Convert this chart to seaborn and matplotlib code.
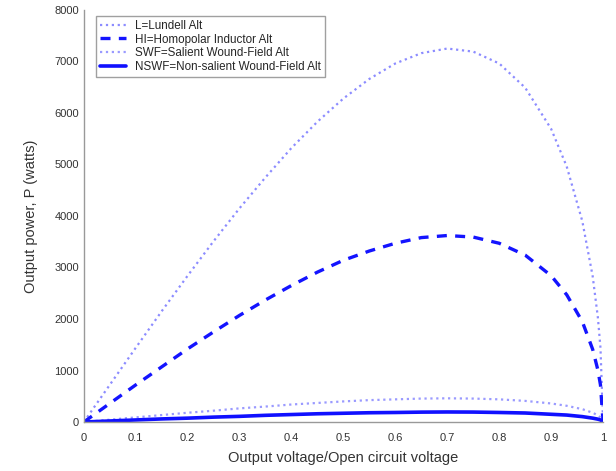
import pandas as pd
import matplotlib
matplotlib.use("Agg")
import matplotlib.pyplot as plt
import seaborn as sns

# Values
x = [0, 0.05, 0.1, 0.15, 0.2, 0.25, 0.3, 0.35, 0.4, 0.45, 0.5, 0.55,
     0.6, 0.65, 0.7, 0.75, 0.8, 0.85, 0.9, 0.93, 0.96, 0.98, 0.99, 0.995, 1.0]
lundell = [0, 720, 1440, 2150, 2840, 3510, 4150, 4750, 5320, 5830, 6280, 6660,
           6960, 7160, 7250, 7190, 6960, 6490, 5690, 4960, 3900, 2830, 2030, 1440, 0]
homopolar = [0, 360, 720, 1070, 1420, 1750, 2070, 2370, 2650, 2910, 3140, 3320,
             3470, 3580, 3620, 3590, 3470, 3240, 2840, 2470, 1950, 1410, 1010, 720, 0]
salient = [0, 45, 90, 135, 180, 220, 265, 300, 340, 370, 400, 425,
           440, 455, 460, 455, 440, 410, 360, 315, 250, 180, 130, 90, 0]
nonsalient = [0, 20, 40, 60, 75, 95, 110, 130, 145, 160, 170, 180,
              185, 192, 195, 193, 185, 175, 150, 135, 105, 75, 55, 40, 0]
labels = ["L=Lundell Alt", "HI=Homopolar Inductor Alt",
          "SWF=Salient Wound-Field Alt", "NSWF=Non-salient Wound-Field Alt"]

df = pd.DataFrame({"x": x, labels[0]: lundell, labels[1]: homopolar,
                   labels[2]: salient, labels[3]: nonsalient})

sns.set_style("white")
plt.rcParams["font.family"] = ["Liberation Sans", "DejaVu Sans"]

fig = plt.figure(figsize=(6.16, 4.71), dpi=100)
ax = fig.add_axes([0.136, 0.104, 0.843, 0.875])

styles = [
    dict(color="#8c8cff", linestyle=":", linewidth=1.6),
    dict(color="#1414ff", linestyle=(0, (3, 2.5)), linewidth=2.4),
    dict(color="#9a9aff", linestyle=":", linewidth=1.6),
    dict(color="#1010ff", linestyle="-", linewidth=2.6),
]
for lab, st in zip(labels, styles):
    sns.lineplot(x="x", y=lab, data=df, ax=ax, label=lab, sort=False, **st)

ax.set_xlim(0, 1)
ax.set_ylim(0, 8000)
ax.set_xticks([0, 0.1, 0.2, 0.3, 0.4, 0.5, 0.6, 0.7, 0.8, 0.9, 1])
ax.set_xticklabels(["0", "0.1", "0.2", "0.3", "0.4", "0.5", "0.6", "0.7", "0.8", "0.9", "1"])
ax.set_yticks(range(0, 8001, 1000))
ax.tick_params(direction="in", length=3, labelsize=8, colors="#555555",
               labelcolor="#333333")
ax.tick_params(axis="x", pad=8)
ax.set_xlabel("Output voltage/Open circuit voltage", fontsize=10.5,
              color="#333333", labelpad=6)
ax.set_ylabel("Output power, P (watts)", fontsize=10.5, color="#333333",
              labelpad=12)
sns.despine(ax=ax)
for s in ["left", "bottom"]:
    ax.spines[s].set_color("#999999")
    ax.spines[s].set_linewidth(1)

leg = ax.legend(loc="upper left", bbox_to_anchor=(0.012, 1.0), fontsize=8.4,
                frameon=True, fancybox=False, handlelength=2.2,
                borderpad=0.35, labelspacing=0.15)
leg.get_frame().set_edgecolor("#888888")
leg.get_frame().set_linewidth(1)

fig.savefig("out.png", dpi=100)
